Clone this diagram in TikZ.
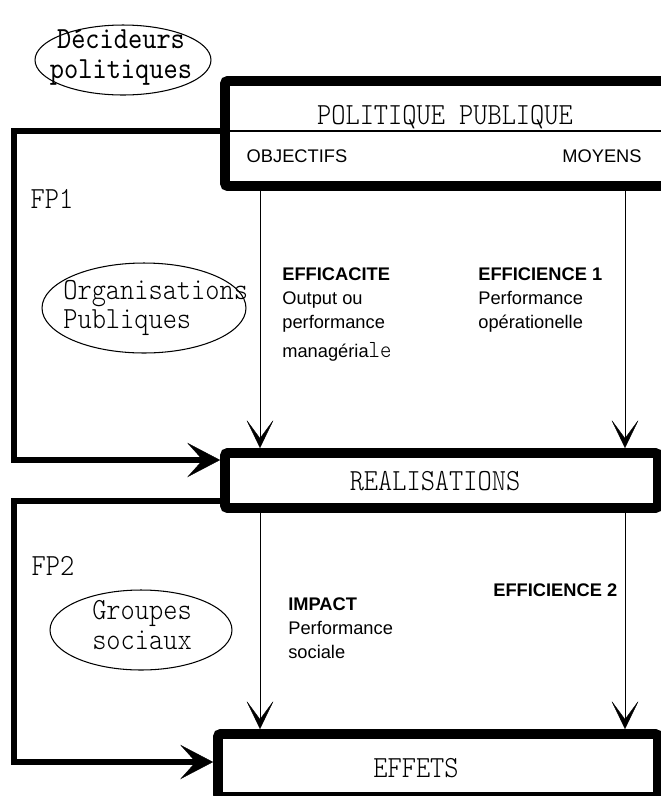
\documentclass[tikz,border=0pt]{standalone}
\usepackage{fontspec}
\setmainfont{Liberation Sans}
\newfontfamily\typefont[Extension=.otf,FakeStretch=0.88]{lmmonolt10-regular}
\newfontfamily\heavytype[Extension=.otf,FakeStretch=0.88]{lmmono10-regular}
\usepackage{tikz}
\usetikzlibrary{shapes.geometric, arrows.meta, positioning, calc}
\tikzset{
  box/.style={rectangle, draw, line width=5.6pt, rounded corners=1.5pt, inner sep=0pt},
  bubble/.style={ellipse, draw, line width=0.6pt, inner sep=0pt},
  title/.style={font=\typefont\fontsize{17.5}{17}\selectfont, inner sep=0pt},
  lbl/.style={anchor=base west, align=left, inner sep=0pt, font=\fontsize{10.4}{13.6}\selectfont},
  arrow/.style={-{Stealth[length=5.8mm, width=5.6mm, inset=3.8mm, line width=0.2pt]}, line width=0.5pt},
  fbline/.style={-{Stealth[length=6.6mm, width=6.9mm, inset=3.1mm, line width=0.2pt]}, line width=3.7pt}
}

\begin{document}
\begin{tikzpicture}[x=0.02cm, y=-0.02cm]
  \useasboundingbox (0,0) rectangle (661,796);
  % decideurs
  \node[bubble, minimum width=3.52cm, minimum height=1.4cm] (D) at (123,60) {};
  \node[title, align=center, font=\heavytype\fontsize{17.5}{17}\selectfont] (Dt) at (121,57) {Décideurs\\politiques};
  % politique publique box
  \node[box, minimum width=8.86cm, minimum height=2.1cm] (P) at (446.5,133.5) {};
  \draw[line width=0.6pt] (P.west |- 0,131) -- (P.east |- 0,131);
  \node[title, anchor=base] (Pt) at (445,124) {POLITIQUE PUBLIQUE};
  \node[lbl, anchor=base] (obj) at (297,162) {OBJECTIFS};
  \node[lbl, anchor=base] (moy) at (602,162) {MOYENS};
  % realisations and effets
  \node[box, minimum width=8.66cm, minimum height=1.1cm] (R) at (441.5,480.5) {};
  \node[title, anchor=base] (Rt) at (435,490) {REALISATIONS};
  \node[box, minimum width=8.8cm, minimum height=1.26cm] (E) at (438,765.5) {};
  \node[title, anchor=base] (Et) at (416,777) {EFFETS};
  % first loop (base = last line)
  \node[title, anchor=base] (fp1) at (52,208) {FP1};
  \node[bubble, minimum width=4.08cm, minimum height=1.8cm] (O) at (144,308) {};
  \node[title, align=left, anchor=west] (Ot) at (63,308) {Organisations\\Publiques};
  \node[lbl] (L1) at (282,357) {\textbf{EFFICACITE}\\Output ou\\performance\\[2.8pt]managéria{\typefont\fontsize{14}{13.6}\selectfont le}};
  \node[lbl] (L2) at (478,328) {\textbf{EFFICIENCE 1}\\Performance\\opérationelle};
  % second loop
  \node[title, anchor=base] (fp2) at (53,575) {FP2};
  \node[bubble, minimum width=3.64cm, minimum height=1.6cm] (G) at (141,630) {};
  \node[title, align=left] (Gt) at (142,625) {Groupes\\sociaux};
  \node[lbl] (L3) at (288,658) {\textbf{IMPACT}\\Performance\\sociale};
  \node[lbl] (L4) at (493,596) {\textbf{EFFICIENCE 2}};
  % thin arrows
  \draw[arrow] (P.south -| 260,0) -- (R.north -| 260,0);
  \draw[arrow] (P.south -| 625,0) -- (R.north -| 625,0);
  \draw[arrow] (R.south -| 260,0) -- (E.north -| 260,0);
  \draw[arrow] (R.south -| 625,0) -- (E.north -| 625,0);
  % feedback lines
  \coordinate (F1) at (14,460);
  \coordinate (F2) at (14,762);
  \draw[fbline] (P.west |- 0,131) -| (F1) -- (R.west |- F1);
  \draw[fbline] (R.west |- 0,501) -| (F2) -- (E.west |- F2);
\end{tikzpicture}
\end{document}
